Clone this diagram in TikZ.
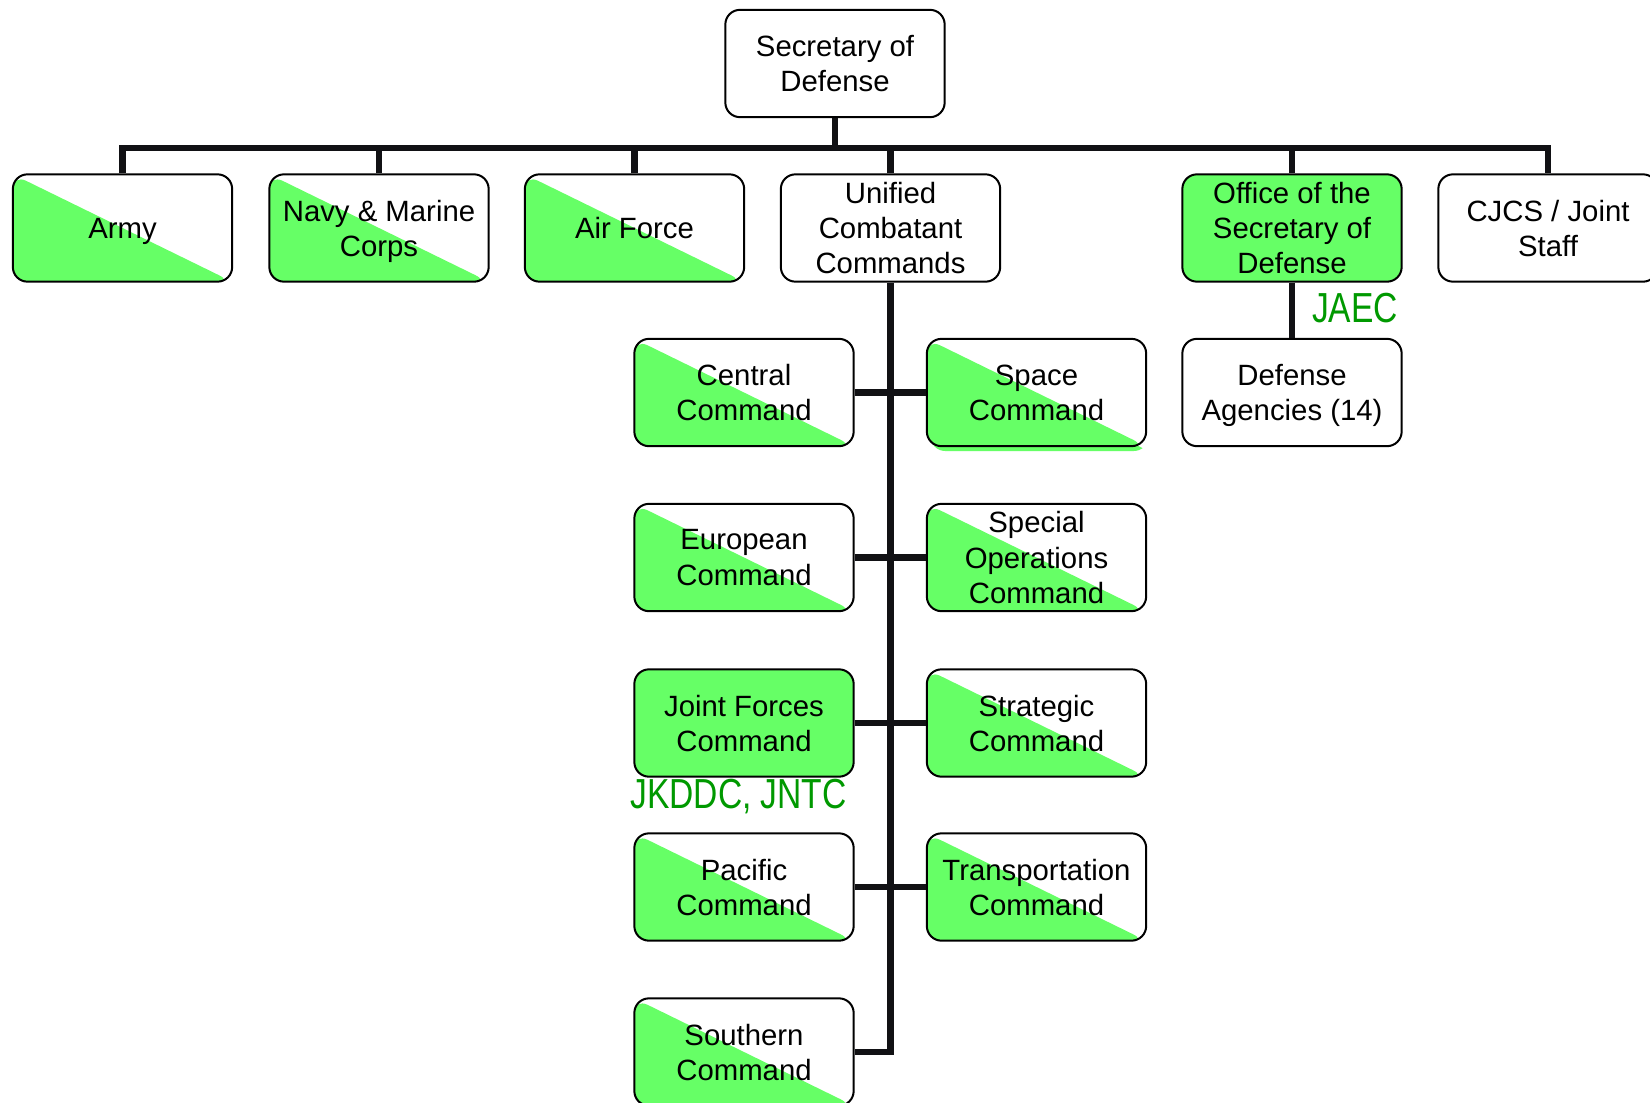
\documentclass[tikz,border=0pt]{standalone}
\usepackage{fontspec}
\setmainfont{Liberation Sans}
\newfontfamily\narrowfont[FakeStretch=0.8]{Liberation Sans}
\definecolor{boxgreen}{RGB}{102,255,102}
\definecolor{labelgreen}{RGB}{0,153,0}
\definecolor{linkblack}{RGB}{17,17,20}
\begin{document}
\begin{tikzpicture}[x=0.75pt,y=-0.75pt,
  orgbox/.style={draw=black, line width=1.5pt, rounded corners=11pt,
    minimum width=164.5pt, minimum height=80.5pt, inner sep=0pt, align=center,
    font=\fontsize{22pt}{26.4pt}\selectfont, text=black, text depth=0pt},
  oneline/.style={execute at begin node={\rule{0pt}{0.905em}}, text depth=4.66pt},
  halfgreen/.style={path picture={\fill[boxgreen]
    (path picture bounding box.north west) -- (path picture bounding box.south west)
    -- (path picture bounding box.south east) -- cycle;}},
  fullgreen/.style={fill=boxgreen},
  link/.style={draw=linkblack, line width=4.6pt},
  note/.style={text=labelgreen, font=\narrowfont\fontsize{31.5pt}{36pt}\selectfont, inner sep=0pt}]
\useasboundingbox (0,0) rectangle (1650,1103);
\fill[white] (0,0) rectangle (1650,1103);

% green offset glitch under Space Command
\begin{scope}[shift={(3,5)}]
  \clip[rounded corners=11pt] (927.5,339) rectangle (1145.5,446);
  \fill[boxgreen] (927.5,339) -- (927.5,446) -- (1145.5,446) -- cycle;
\end{scope}

% nodes
\node[orgbox] (secdef) at (835,63.5) {Secretary of\\Defense};
\node[orgbox, oneline, halfgreen] (army) at (122.5,228) {Army};
\node[orgbox, halfgreen] (navy) at (379,228) {Navy \& Marine\\Corps};
\node[orgbox, oneline, halfgreen] (airforce) at (634.5,228) {Air Force};
\node[orgbox] (unified) at (890.5,228) {Unified\\Combatant\\Commands};
\node[orgbox, fullgreen] (osd) at (1292,228) {Office of the\\Secretary of\\Defense};
\node[orgbox, text depth=-4.4pt] (cjcs) at (1548,228) {CJCS / Joint\\Staff};

\node[orgbox, halfgreen] (central) at (744,392.5) {Central\\Command};
\node[orgbox, halfgreen] (space) at (1036.5,392.5) {Space\\Command};
\node[orgbox, halfgreen] (european) at (744,557.5) {European\\Command};
\node[orgbox, halfgreen] (specops) at (1036.5,557.5) {Special\\Operations\\Command};
\node[orgbox, fullgreen] (joint) at (744,723) {Joint Forces\\Command};
\node[orgbox, halfgreen] (strategic) at (1036.5,723) {Strategic\\Command};
\node[orgbox, halfgreen] (pacific) at (744,887) {Pacific\\Command};
\node[orgbox, halfgreen] (transport) at (1036.5,887) {Transportation\\Command};
\node[orgbox, halfgreen] (southern) at (744,1052) {Southern\\Command};

\node[orgbox] (agencies) at (1292,392.5) {Defense\\Agencies (14)};

\node[note, anchor=base] (jaec) at (1355,322) {JAEC};
\node[note, anchor=base west] (jkddc) at (630,808) {JKDDC, JNTC};

% connectors
\coordinate (bar) at (835,148);
\draw[link] (secdef.south) -- (bar);
\draw[link] (army.north) -- (army.north |- bar) -- (cjcs.north |- bar) -- (cjcs.north);
\draw[link] (navy.north) -- (navy.north |- bar);
\draw[link] (airforce.north) -- (airforce.north |- bar);
\draw[link] (unified.north) -- (unified.north |- bar);
\draw[link] (osd.north) -- (osd.north |- bar);
\draw[link] (osd.south) -- (agencies.north);
\draw[link] (unified.south) -- (unified.south |- southern.east) -- (southern.east);
\draw[link] (central.east) -- (space.west);
\draw[link] (european.east) -- (specops.west);
\draw[link] (joint.east) -- (strategic.west);
\draw[link] (pacific.east) -- (transport.west);
\end{tikzpicture}
\end{document}
